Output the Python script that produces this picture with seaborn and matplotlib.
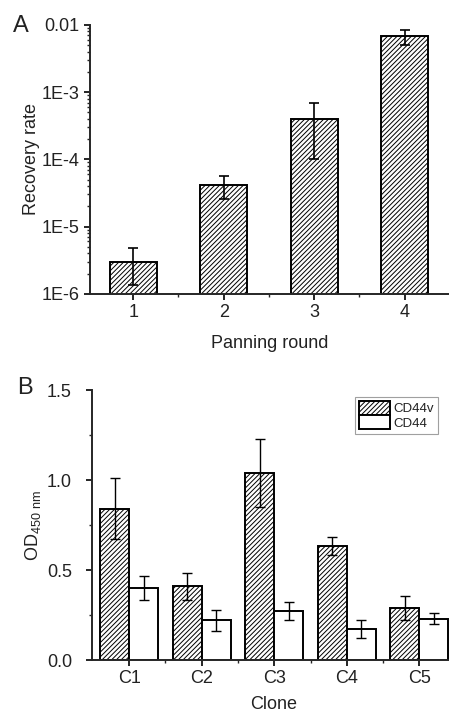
import numpy as np
import pandas as pd
import seaborn as sns
import matplotlib.pyplot as plt
from matplotlib.patches import Patch
from matplotlib.ticker import MultipleLocator, FixedLocator, NullFormatter, LogLocator

# --------- Data: panel A (panning rounds) ---------
rounds = ["1", "2", "3", "4"]
recovery = [3.0e-6, 4.2e-5, 4.0e-4, 6.8e-3]
recovery_lo = [1.36e-6, 2.6e-5, 1.0e-4, 5.0e-3]
recovery_hi = [4.8e-6, 5.6e-5, 6.9e-4, 8.5e-3]

# --------- Data: panel B (clones) ---------
clones = ["C1", "C2", "C3", "C4", "C5"]
cd44v = [0.84, 0.41, 1.04, 0.635, 0.29]
cd44v_err = [0.17, 0.075, 0.19, 0.05, 0.065]
cd44 = [0.40, 0.22, 0.27, 0.17, 0.23]
cd44_err = [0.065, 0.06, 0.05, 0.05, 0.032]
groups = ["CD44v", "CD44"]

sns.set_style("ticks")
plt.rcParams["font.family"] = ["Liberation Sans", "DejaVu Sans"]
plt.rcParams["mathtext.default"] = "regular"
plt.rcParams["hatch.linewidth"] = 0.7
plt.rcParams["axes.linewidth"] = 1.4

HATCH = "///////"
TXT = "#222222"
fig = plt.figure(figsize=(4.49, 7.13), dpi=100)

# --------- Panel A ---------
axA = fig.add_axes([0.200, 0.588, 0.800, 0.377])
dfA = pd.DataFrame({"round": rounds, "rate": recovery})
sns.barplot(data=dfA, x="round", y="rate", color="white", edgecolor="black",
            linewidth=1.4, hatch=HATCH, width=0.52, errorbar=None, ax=axA)
axA.set_yscale("log")
centers = [p.get_x() + p.get_width() / 2 for p in axA.containers[0]]
yerrA = [np.array(recovery) - np.array(recovery_lo), np.array(recovery_hi) - np.array(recovery)]
axA.errorbar(centers, recovery, yerr=yerrA, fmt="none", ecolor="black",
             elinewidth=1.2, capsize=3.5, capthick=1.2)
axA.set_ylim(1e-6, 1e-2)
axA.set_xlim(-0.48, 3.49)
axA.yaxis.set_major_locator(FixedLocator([1e-6, 1e-5, 1e-4, 1e-3, 1e-2]))
axA.set_yticklabels(["1E-6", "1E-5", "1E-4", "1E-3", "0.01"])
axA.yaxis.set_minor_locator(LogLocator(base=10, subs=np.arange(2, 10)))
axA.yaxis.set_minor_formatter(NullFormatter())
axA.xaxis.set_minor_locator(FixedLocator([0.5, 1.5, 2.5]))
axA.tick_params(axis="both", which="major", labelsize=13, length=4.5, width=1.2,
                color="black", labelcolor=TXT, pad=3)
axA.tick_params(axis="both", which="minor", length=2.5, width=1.0)
axA.set_xlabel("Panning round", fontsize=13, labelpad=10, color=TXT)
axA.set_ylabel("Recovery rate", fontsize=13, labelpad=1, color=TXT)
sns.despine(ax=axA)

# --------- Panel B ---------
axB = fig.add_axes([0.205, 0.0743, 0.810, 0.3787])
dfB = pd.DataFrame({
    "clone": clones * 2,
    "od": cd44v + cd44,
    "group": [groups[0]] * len(clones) + [groups[1]] * len(clones),
})
sns.barplot(data=dfB, x="clone", y="od", hue="group", hue_order=groups,
            palette=["white", "white"], edgecolor="black", linewidth=1.4,
            width=0.8, gap=0, errorbar=None, legend=False, ax=axB)
for bar in axB.containers[0]:
    bar.set_hatch(HATCH)
for cont, vals, errs in zip(axB.containers, [cd44v, cd44], [cd44v_err, cd44_err]):
    xs = [p.get_x() + p.get_width() / 2 for p in cont]
    axB.errorbar(xs, vals, yerr=errs, fmt="none", ecolor="black",
                 elinewidth=1.0, capsize=3.5, capthick=1.0)
axB.set_ylim(0, 1.5)
axB.set_xlim(-0.51, 4.5)
axB.yaxis.set_major_locator(MultipleLocator(0.5))
axB.yaxis.set_minor_locator(MultipleLocator(0.25))
axB.xaxis.set_minor_locator(FixedLocator([0.5, 1.5, 2.5, 3.5]))
axB.tick_params(axis="x", which="major", labelsize=13, length=4.5, width=1.2,
                color="black", labelcolor=TXT, pad=3)
axB.tick_params(axis="y", which="major", labelsize=13, length=4.5, width=1.2,
                color="black", labelcolor=TXT, pad=10)
axB.tick_params(axis="both", which="minor", length=2.5, width=1.0)
axB.set_xlabel("Clone", fontsize=13, labelpad=6, color=TXT)
axB.set_ylabel("OD$_{450\\ nm}$", fontsize=13, labelpad=3, color=TXT)
sns.despine(ax=axB)

handles = [Patch(facecolor="white", edgecolor="black", hatch=HATCH, linewidth=1.4, label=groups[0]),
           Patch(facecolor="white", edgecolor="black", linewidth=1.4, label=groups[1])]
leg = axB.legend(handles=handles, loc="upper right", bbox_to_anchor=(0.95, 0.974),
                 fontsize=9.5, frameon=True, fancybox=False, handlelength=2.4,
                 handleheight=1.25, handletextpad=0.2, borderpad=0.3,
                 labelspacing=0.0, borderaxespad=0, labelcolor=TXT)
leg.get_frame().set_edgecolor("#888888")
leg.get_frame().set_linewidth(0.8)

fig.text(0.047, 0.964, "A", fontsize=17, ha="center", va="center", color=TXT)
fig.text(0.056, 0.456, "B", fontsize=17, ha="center", va="center", color=TXT)

fig.savefig("out.png", dpi=100)
